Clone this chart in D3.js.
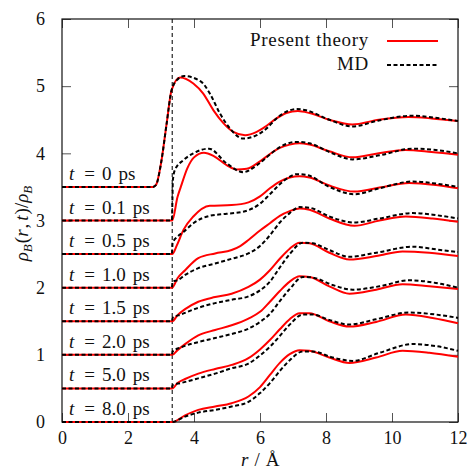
<!DOCTYPE html>
<html>
<head>
<meta charset="utf-8">
<script src="https://cdn.jsdelivr.net/npm/d3@7"></script>
<style>
  body { margin: 0; background: #fff; }
</style>
</head>
<body>
<div id="chart"></div>
<script>
// time labels and vertical offset of each curve
const times = ["0", "0.1", "0.5", "1.0", "1.5", "2.0", "5.0", "8.0"];
const offsets = [3.5, 3.0, 2.5, 2.0, 1.5, 1.0, 0.5, 0];
const wallR = 3.34;

// present theory curves, [r, rho]
const theory_t0 = [[0,3.5],[2.75,3.5],[2.85,3.53],[3.0,3.85],[3.17,4.44],[3.32,4.94],[3.58,5.13],[3.98,5.04],[4.28,4.89],[4.59,4.64],[4.89,4.45],[5.19,4.32],[5.55,4.27],[5.9,4.32],[6.2,4.41],[6.5,4.52],[6.8,4.60],[7.15,4.63],[7.5,4.60],[8.1,4.50],[8.8,4.43],[9.6,4.50],[10.5,4.54],[11.2,4.52],[12,4.48]];
const theory_t01 = [[0,3.0],[3.34,3.0],[3.5,3.35],[3.6,3.50],[3.8,3.78],[4.0,3.94],[4.3,4.01],[4.6,3.96],[5.0,3.82],[5.3,3.76],[5.6,3.77],[6.0,3.88],[6.3,3.99],[6.6,4.08],[6.9,4.13],[7.2,4.15],[7.5,4.13],[8.1,4.03],[8.8,3.94],[9.6,4.0],[10.4,4.05],[11.2,4.02],[12,3.98]];
const theory_t05 = [[0,2.5],[3.34,2.5],[3.48,2.63],[3.68,2.86],[3.98,3.06],[4.48,3.22],[5.14,3.23],[5.65,3.27],[6.0,3.36],[6.3,3.48],[6.6,3.58],[6.9,3.64],[7.2,3.66],[7.5,3.64],[8.1,3.52],[8.86,3.43],[9.62,3.49],[10.52,3.56],[11.33,3.53],[12,3.48]];
const theory_t10 = [[0,2.0],[3.34,2.0],[3.5,2.14],[3.73,2.26],[4.13,2.44],[4.64,2.51],[5.14,2.56],[5.4,2.62],[5.65,2.71],[6.0,2.85],[6.3,2.96],[6.6,3.07],[6.9,3.14],[7.2,3.18],[7.5,3.16],[8.1,3.03],[8.86,2.92],[9.62,3.0],[10.42,3.06],[11.23,3.03],[12,2.98]];
const theory_t15 = [[0,1.5],[3.34,1.5],[3.5,1.59],[3.73,1.68],[4.13,1.79],[4.64,1.86],[5.14,1.91],[5.65,2.01],[6.0,2.12],[6.3,2.26],[6.6,2.43],[6.9,2.58],[7.2,2.67],[7.5,2.66],[8.1,2.52],[8.71,2.42],[9.52,2.47],[10.32,2.54],[11.13,2.52],[12,2.47]];
const theory_t20 = [[0,1.0],[3.34,1.0],[3.5,1.07],[3.73,1.16],[4.13,1.29],[4.64,1.37],[5.14,1.44],[5.65,1.54],[6.0,1.64],[6.3,1.79],[6.6,1.95],[6.9,2.09],[7.2,2.17],[7.5,2.16],[8.1,2.02],[8.71,1.91],[9.52,1.97],[10.32,2.05],[11.13,2.02],[12,1.98]];
const theory_t50 = [[0,0.5],[3.34,0.5],[3.5,0.58],[3.73,0.64],[4.13,0.72],[4.64,0.79],[5.14,0.85],[5.65,0.95],[6.0,1.08],[6.3,1.22],[6.6,1.38],[6.9,1.53],[7.2,1.62],[7.5,1.62],[8.1,1.50],[8.71,1.42],[9.52,1.49],[10.42,1.60],[11.23,1.55],[12,1.47]];
const theory_t80 = [[0,0.0],[3.34,0.0],[3.73,0.10],[4.13,0.18],[4.64,0.23],[5.14,0.28],[5.65,0.38],[6.0,0.52],[6.3,0.70],[6.6,0.88],[6.9,1.01],[7.2,1.07],[7.5,1.06],[8.1,0.96],[8.71,0.88],[9.52,0.96],[10.32,1.06],[11.13,1.03],[12,0.97]];

// MD curves
const md_t0 = [[0,3.5],[2.75,3.5],[2.85,3.53],[3.0,3.85],[3.17,4.44],[3.32,4.94],[3.5,5.10],[3.7,5.15],[4.23,5.06],[4.48,4.89],[4.79,4.59],[5.09,4.37],[5.49,4.22],[5.9,4.27],[6.2,4.37],[6.5,4.52],[6.8,4.62],[7.1,4.66],[7.4,4.64],[8.1,4.50],[8.8,4.40],[9.6,4.49],[10.6,4.56],[11.3,4.53],[12,4.48]];
const md_t01 = [[0,3.0],[3.33,3.0],[3.36,3.60],[3.42,3.75],[3.68,3.90],[3.98,4.0],[4.45,4.07],[4.99,3.85],[5.49,3.72],[5.9,3.82],[6.2,3.94],[6.5,4.06],[6.8,4.14],[7.14,4.17],[7.5,4.15],[8.1,4.02],[8.81,3.91],[9.62,3.97],[10.63,4.07],[11.33,4.05],[12,4.0]];
const md_t05 = [[0,2.5],[3.33,2.5],[3.35,2.66],[3.5,2.76],[3.68,2.83],[3.98,2.96],[4.48,3.07],[4.99,3.10],[5.49,3.13],[6.0,3.25],[6.3,3.39],[6.6,3.54],[6.9,3.65],[7.1,3.69],[7.4,3.68],[8.1,3.50],[8.86,3.39],[9.62,3.48],[10.63,3.58],[11.33,3.55],[12,3.50]];
const md_t10 = [[0,2.0],[3.33,2.0],[3.35,2.09],[3.5,2.11],[3.73,2.19],[4.13,2.29],[4.64,2.36],[5.14,2.43],[5.65,2.51],[6.0,2.62],[6.3,2.78],[6.6,2.97],[6.9,3.11],[7.2,3.20],[7.5,3.19],[8.1,3.06],[8.86,2.97],[9.62,3.03],[10.63,3.11],[11.33,3.08],[12,3.03]];
const md_t15 = [[0,1.5],[3.33,1.5],[3.35,1.55],[3.6,1.60],[4.13,1.70],[4.64,1.77],[5.14,1.82],[5.65,1.87],[6.0,1.96],[6.3,2.09],[6.6,2.30],[6.9,2.50],[7.3,2.67],[7.6,2.66],[8.1,2.56],[8.71,2.46],[9.52,2.52],[10.63,2.61],[11.33,2.57],[12,2.53]];
const md_t20 = [[0,1.0],[3.33,1.0],[3.35,1.05],[3.6,1.11],[4.13,1.19],[4.64,1.25],[5.14,1.31],[5.65,1.39],[6.0,1.49],[6.3,1.61],[6.6,1.80],[6.9,1.98],[7.3,2.16],[7.6,2.15],[8.2,2.04],[8.81,1.97],[9.62,2.02],[10.52,2.11],[11.33,2.07],[12,2.0]];
const md_t50 = [[0,0.5],[3.33,0.5],[3.35,0.55],[3.6,0.58],[4.13,0.65],[4.64,0.72],[5.14,0.80],[5.65,0.87],[6.0,0.99],[6.3,1.12],[6.6,1.28],[6.9,1.45],[7.3,1.60],[7.6,1.60],[8.1,1.52],[8.71,1.45],[9.52,1.53],[10.52,1.63],[11.33,1.60],[12,1.55]];
const md_t80 = [[0,0.0],[3.34,0.0],[3.73,0.08],[4.13,0.14],[4.64,0.18],[5.14,0.23],[5.65,0.30],[6.0,0.43],[6.3,0.58],[6.6,0.76],[6.9,0.92],[7.3,1.05],[7.6,1.05],[8.2,0.96],[8.81,0.91],[9.62,1.03],[10.63,1.16],[11.33,1.13],[12,1.06]];

const theorySeries = [theory_t0, theory_t01, theory_t05, theory_t10, theory_t15, theory_t20, theory_t50, theory_t80];
const mdSeries = [md_t0, md_t01, md_t05, md_t10, md_t15, md_t20, md_t50, md_t80];

const xTicks = [0, 2, 4, 6, 8, 10, 12];
const yTicks = [0, 1, 2, 3, 4, 5, 6];

const FONT = '"Liberation Serif", "Times New Roman", serif';

// chart size
const W = 476, H = 473;
const margin = {top: 19, right: 18, bottom: 51, left: 62};

const svg = d3.select("#chart").append("svg")
    .attr("width", W)
    .attr("height", H)
    .attr("font-family", FONT);

const x = d3.scaleLinear().domain([0, 12]).range([margin.left, W - margin.right]);
const y = d3.scaleLinear().domain([0, 6]).range([H - margin.bottom, margin.top]);

// axes with inward ticks on all four sides
const tickLen = 9;
svg.append("g")
    .attr("transform", `translate(0, ${y(0)})`)
    .call(d3.axisBottom(x).tickValues(xTicks).tickFormat(d3.format("d")).tickSizeInner(-tickLen).tickSizeOuter(0).tickPadding(9))
    .call(g => g.select(".domain").remove());
svg.append("g")
    .attr("transform", `translate(0, ${y(6)})`)
    .call(d3.axisTop(x).tickValues(xTicks).tickSizeInner(-tickLen).tickSizeOuter(0).tickFormat(""))
    .call(g => g.select(".domain").remove());
svg.append("g")
    .attr("transform", `translate(${x(0)}, 0)`)
    .call(d3.axisLeft(y).tickValues(yTicks).tickFormat(d3.format("d")).tickSizeInner(-tickLen).tickSizeOuter(0).tickPadding(17))
    .call(g => g.select(".domain").remove());
svg.append("g")
    .attr("transform", `translate(${x(12)}, 0)`)
    .call(d3.axisRight(y).tickValues(yTicks).tickSizeInner(-tickLen).tickSizeOuter(0).tickFormat(""))
    .call(g => g.select(".domain").remove());
svg.selectAll(".tick line").attr("stroke", "#555").attr("stroke-width", 1);
svg.selectAll(".tick text")
    .attr("font-family", FONT)
    .attr("font-size", 18)
    .attr("fill", "#111");

// frame
svg.append("rect")
    .attr("x", x(0)).attr("y", y(6))
    .attr("width", x(12) - x(0)).attr("height", y(0) - y(6))
    .attr("fill", "none").attr("stroke", "#111").attr("stroke-width", 1.2);

// wall position
svg.append("line")
    .attr("x1", x(wallR)).attr("x2", x(wallR))
    .attr("y1", y(0)).attr("y2", y(6))
    .attr("stroke", "#111").attr("stroke-width", 1.1)
    .attr("stroke-dasharray", "4,3");

const line = d3.line()
    .x(d => x(d[0]))
    .y(d => y(d[1]))
    .curve(d3.curveMonotoneX);

svg.append("g").selectAll("path")
    .data(theorySeries)
    .enter().append("path")
    .attr("d", line)
    .attr("fill", "none")
    .attr("stroke", "#ff0000")
    .attr("stroke-width", 2);

svg.append("g").selectAll("path")
    .data(mdSeries)
    .enter().append("path")
    .attr("d", line)
    .attr("fill", "none")
    .attr("stroke", "#000")
    .attr("stroke-width", 2)
    .attr("stroke-dasharray", "4,2.5");

// time labels above each baseline
const labels = svg.append("g").selectAll("text")
    .data(times)
    .enter().append("text")
    .attr("x", x(0) + 7)
    .attr("y", (d, i) => y(offsets[i]) - 7)
    .attr("font-size", 19)
    .attr("fill", "#111");
labels.append("tspan").attr("font-style", "italic").text("t");
labels.append("tspan").attr("dx", 10).text("=");
labels.append("tspan").attr("dx", 7).text(d => d);
labels.append("tspan").attr("dx", 7).text("ps");

// legend
const legend = svg.append("g").attr("fill", "#111");
legend.append("text")
    .attr("x", 369).attr("y", 46)
    .attr("text-anchor", "end")
    .attr("font-size", 19)
    .attr("letter-spacing", 0.7)
    .text("Present theory");
legend.append("line")
    .attr("x1", 387).attr("x2", 438).attr("y1", 41).attr("y2", 41)
    .attr("stroke", "#ff0000").attr("stroke-width", 2);
legend.append("text")
    .attr("x", 369).attr("y", 70)
    .attr("text-anchor", "end")
    .attr("font-size", 19)
    .attr("letter-spacing", 0.7)
    .text("MD");
legend.append("line")
    .attr("x1", 387).attr("x2", 438).attr("y1", 65).attr("y2", 65)
    .attr("stroke", "#000").attr("stroke-width", 2)
    .attr("stroke-dasharray", "4,2.5");

// axis titles
const xTitle = svg.append("text")
    .attr("x", 241).attr("y", 466)
    .attr("font-size", 19)
    .attr("fill", "#111");
xTitle.append("tspan").attr("font-style", "italic").text("r");
xTitle.append("tspan").attr("dx", 6).text("/");
xTitle.append("tspan").attr("dx", 6).text("Å");

const yTitle = svg.append("text")
    .attr("transform", `translate(28, ${y(3) + 3}) rotate(-90)`)
    .attr("text-anchor", "middle")
    .attr("font-size", 19)
    .attr("fill", "#111");
yTitle.append("tspan").attr("font-style", "italic").text("ρ");
yTitle.append("tspan").attr("font-style", "italic").attr("font-size", 13).attr("dy", 4).text("B");
yTitle.append("tspan").attr("dy", -4).attr("dx", 1).text("(");
yTitle.append("tspan").attr("font-style", "italic").text("r");
yTitle.append("tspan").attr("dx", 1).text(",");
yTitle.append("tspan").attr("dx", 3).attr("font-style", "italic").text("t");
yTitle.append("tspan").attr("dx", 1).text(")/");
yTitle.append("tspan").attr("font-style", "italic").text("ρ");
yTitle.append("tspan").attr("font-style", "italic").attr("font-size", 13).attr("dy", 4).text("B");
</script>
</body>
</html>
